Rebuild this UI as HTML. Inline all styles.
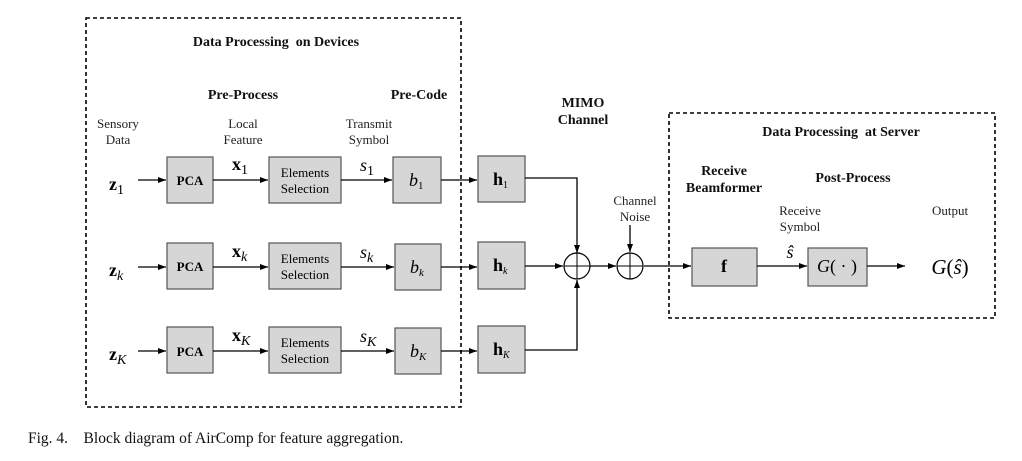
<!DOCTYPE html>
<html><head><meta charset="utf-8"><style>
html,body{margin:0;padding:0;background:#fff;}
svg{display:block;font-family:"Liberation Serif",serif;}
</style></head><body>
<svg width="1022" height="461" viewBox="0 0 1022 461" xmlns="http://www.w3.org/2000/svg">
<defs><marker id="a" markerWidth="8" markerHeight="6" refX="8" refY="3" orient="auto" markerUnits="userSpaceOnUse"><path d="M0,0 L8,3 L0,6z" fill="#000"/></marker></defs>
<g fill="none" stroke="#000" stroke-width="1.6" stroke-dasharray="4,3">
<rect x="86" y="18" width="375" height="389"/>
<rect x="669" y="113" width="326" height="205"/>
</g>
<g font-size="14" text-anchor="middle" fill="#111">
<text x="276" y="46" font-weight="bold">Data Processing&#160; on Devices</text>
<text x="243" y="99" font-weight="bold">Pre-Process</text>
<text x="419" y="99" font-weight="bold">Pre-Code</text>
<text x="583" y="107" font-weight="bold">MIMO</text>
<text x="583" y="124" font-weight="bold">Channel</text>
<text x="841" y="136" font-weight="bold">Data Processing&#160; at Server</text>
<text x="724" y="175" font-weight="bold">Receive</text>
<text x="724" y="192" font-weight="bold">Beamformer</text>
<text x="853" y="182" font-weight="bold">Post-Process</text>
</g>
<g font-size="13" text-anchor="middle" fill="#222">
<text x="118" y="128">Sensory</text><text x="118" y="144">Data</text>
<text x="243" y="128">Local</text><text x="243" y="144">Feature</text>
<text x="369" y="128">Transmit</text><text x="369" y="144">Symbol</text>
<text x="635" y="205">Channel</text><text x="635" y="221">Noise</text>
<text x="800" y="215">Receive</text><text x="800" y="231">Symbol</text>
<text x="950" y="215">Output</text>
</g>
<g fill="#d6d6d6" stroke="#555" stroke-width="1.2">
<rect x="167" y="157" width="46" height="46"/><rect x="167" y="243" width="46" height="46"/><rect x="167" y="327" width="46" height="46"/>
<rect x="269" y="157" width="72" height="46"/><rect x="269" y="243" width="72" height="46"/><rect x="269" y="327" width="72" height="46"/>
<rect x="393" y="157" width="48" height="46"/><rect x="395" y="244" width="46" height="46"/><rect x="395" y="328" width="46" height="46"/>
<rect x="478" y="156" width="47" height="46"/><rect x="478" y="242" width="47" height="47"/><rect x="478" y="326" width="47" height="47"/>
<rect x="692" y="248" width="65" height="38"/><rect x="808" y="248" width="59" height="38"/>
</g>
<g stroke="#000" stroke-width="1.3" fill="none" marker-end="url(#a)">
<line x1="138" y1="180" x2="166" y2="180"/><line x1="138" y1="267" x2="166" y2="267"/><line x1="138" y1="351" x2="166" y2="351"/>
<line x1="213" y1="180" x2="268" y2="180"/><line x1="213" y1="267" x2="268" y2="267"/><line x1="213" y1="351" x2="268" y2="351"/>
<line x1="341" y1="180" x2="392" y2="180"/><line x1="341" y1="267" x2="394" y2="267"/><line x1="341" y1="351" x2="394" y2="351"/>
<line x1="441" y1="180" x2="477" y2="180"/><line x1="441" y1="267" x2="477" y2="267"/><line x1="441" y1="351" x2="477" y2="351"/>
<polyline points="525,178 577,178 577,253"/>
<line x1="525" y1="266" x2="563" y2="266"/>
<polyline points="525,350 577,350 577,280"/>
<line x1="590" y1="266" x2="616" y2="266"/>
<line x1="630" y1="225" x2="630" y2="252"/>
<line x1="644" y1="266" x2="691" y2="266"/>
<line x1="757" y1="266" x2="807" y2="266"/>
<line x1="867" y1="266" x2="905" y2="266"/>
</g>
<g stroke="#000" stroke-width="1.2" fill="#fff">
<circle cx="577" cy="266" r="13"/><circle cx="630" cy="266" r="13"/>
</g>
<g stroke="#000" stroke-width="1">
<line x1="564" y1="266" x2="590" y2="266"/><line x1="577" y1="253" x2="577" y2="279"/>
<line x1="617" y1="266" x2="643" y2="266"/><line x1="630" y1="253" x2="630" y2="279"/>
</g>
<g font-size="13" text-anchor="middle" font-weight="bold">
<text x="190" y="185">PCA</text><text x="190" y="271">PCA</text><text x="190" y="356">PCA</text>
</g>
<g font-size="13" text-anchor="middle">
<text x="305" y="177">Elements</text><text x="305" y="193">Selection</text>
<text x="305" y="263">Elements</text><text x="305" y="279">Selection</text>
<text x="305" y="347">Elements</text><text x="305" y="363">Selection</text>
</g>
<g font-size="18">
<text x="109" y="190" font-weight="bold">z<tspan font-weight="normal" font-size="14" dy="4">1</tspan></text>
<text x="109" y="276" font-weight="bold">z<tspan font-weight="normal" font-style="italic" font-size="14" dy="4">k</tspan></text>
<text x="109" y="360" font-weight="bold">z<tspan font-weight="normal" font-style="italic" font-size="14" dy="4">K</tspan></text>
<text x="232" y="170" font-weight="bold">x<tspan font-weight="normal" font-size="14" dy="4">1</tspan></text>
<text x="232" y="257" font-weight="bold">x<tspan font-weight="normal" font-style="italic" font-size="14" dy="4">k</tspan></text>
<text x="232" y="341" font-weight="bold">x<tspan font-weight="normal" font-style="italic" font-size="14" dy="4">K</tspan></text>
<text x="360" y="171" font-style="italic">s<tspan font-style="normal" font-size="14" dy="4">1</tspan></text>
<text x="360" y="258" font-style="italic">s<tspan font-size="14" dy="4">k</tspan></text>
<text x="360" y="342" font-style="italic">s<tspan font-size="14" dy="4">K</tspan></text>
<text x="409" y="186" font-style="italic">b<tspan font-style="normal" font-size="11" dy="3">1</tspan></text>
<text x="410" y="273" font-style="italic">b<tspan font-size="11" dy="3">k</tspan></text>
<text x="410" y="357" font-style="italic">b<tspan font-size="11" dy="3">K</tspan></text>
<text x="493" y="185" font-weight="bold">h<tspan font-weight="normal" font-size="10" dy="3">1</tspan></text>
<text x="493" y="271" font-weight="bold">h<tspan font-weight="normal" font-style="italic" font-size="10" dy="3">k</tspan></text>
<text x="493" y="355" font-weight="bold">h<tspan font-weight="normal" font-style="italic" font-size="10" dy="3">K</tspan></text>
<text x="724" y="272" font-weight="bold" text-anchor="middle">f</text>
<text x="790" y="258" font-style="italic" text-anchor="middle">ŝ</text>
<text x="837" y="272" text-anchor="middle"><tspan font-style="italic">G</tspan>( · )</text>
<text x="950" y="274" text-anchor="middle" font-size="21"><tspan font-style="italic">G</tspan>(<tspan font-style="italic">ŝ</tspan>)</text>
</g>
<text x="28" y="443" font-size="15.5" fill="#111">Fig. 4.&#160;&#160;&#160; Block diagram of AirComp for feature aggregation.</text>
</svg>
</body></html>
